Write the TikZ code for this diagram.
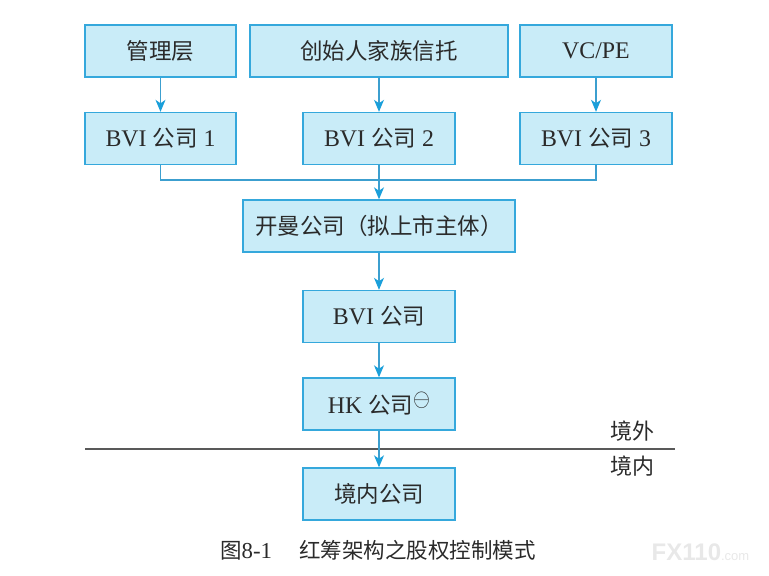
\documentclass[tikz,border=0pt]{standalone}
\usepackage{fontspec}
\usepackage{graphicx}
\setmainfont{Liberation Serif}[Scale=1.06]
\newfontfamily\cjk{Noto Sans CJK SC}
\newfontfamily\wmfont{Liberation Sans}
\usetikzlibrary{arrows.meta}
\newcommand{\zh}[1]{{\cjk #1}}
\newcommand{\supminus}{\raisebox{7pt}{\scalebox{1.05}[1.2]{$\ominus$}}}
\definecolor{boxfill}{HTML}{C9ECF8}
\definecolor{boxline}{HTML}{35A8DC}
\definecolor{arrowblue}{HTML}{1A9FDA}
\definecolor{connline}{HTML}{3C9FCF}
\definecolor{txt}{HTML}{2A2A2A}
\begin{document}
\begin{tikzpicture}[x=1pt,y=-1pt,
  box/.style={draw=boxline, fill=boxfill, line width=1.4pt, minimum height=52pt,
    inner sep=0pt, text=txt, font=\fontsize{22.5}{26}\selectfont},
  conn/.style={draw=connline, line width=1.1pt},
  arr/.style={conn, -{Stealth[length=12pt,width=10pt,inset=3.5pt,color=arrowblue]}}]
\useasboundingbox (0,0) rectangle (769,576);
% top row
\node[box, minimum width=151pt] (mgmt) at (160.5,51) {\zh{管理层}};
\node[box, minimum width=258pt] (trust) at (379,51) {\zh{创始人家族信托}};
\node[box, minimum width=152pt] (vcpe) at (596,51) {VC/PE};
% BVI row
\node[box, minimum width=151pt] (bvi1) at (160.5,138.5) {BVI \zh{公司} 1};
\node[box, minimum width=152pt] (bvi2) at (379,138.5) {BVI \zh{公司} 2};
\node[box, minimum width=152pt] (bvi3) at (596,138.5) {BVI \zh{公司} 3};
% chain
\node[box, minimum width=272pt] (cayman) at (379,226) {\zh{开曼公司（拟上市主体）}};
\node[box, minimum width=152pt] (bvi) at (379,316.5) {BVI \zh{公司}};
\node[box, minimum width=152pt] (hk) at (379,404) {HK \zh{公司}\supminus};
\node[box, minimum width=152pt] (dom) at (379,494) {\zh{境内公司}};
% border line
\coordinate (lineL) at (85,449);
\coordinate (lineR) at (675,449);
\draw[line width=1.2pt, draw=black!65] (lineL) -- (lineR);
\node[text=txt, font=\fontsize{22}{26}\selectfont] (out) at (632,431) {\zh{境外}};
\node[text=txt, font=\fontsize{22}{26}\selectfont] (in) at (632,466) {\zh{境内}};
% arrows
\draw[arr] (mgmt) -- (bvi1);
\draw[arr] (trust) -- (bvi2);
\draw[arr] (vcpe) -- (bvi3);
\coordinate (m) at (379,180);
\draw[conn] (bvi1.south) |- (m) -| (bvi3.south);
\draw[arr] (bvi2) -- (cayman);
\draw[arr] (cayman) -- (bvi);
\draw[arr] (bvi) -- (hk);
\draw[arr] (hk) -- (dom);
% caption
\node[text=txt, font=\fontsize{21.5}{25}\selectfont] (cap) at (378,550) {\zh{图}8-1\hspace{1.2em}\zh{红筹架构之股权控制模式}};
% watermark
\node[text=black!9, font=\wmfont\bfseries\fontsize{24}{26}\selectfont, anchor=west] (wm) at (648,552) {FX110\fontsize{13}{14}\selectfont\mdseries.com};
\end{tikzpicture}
\end{document}
